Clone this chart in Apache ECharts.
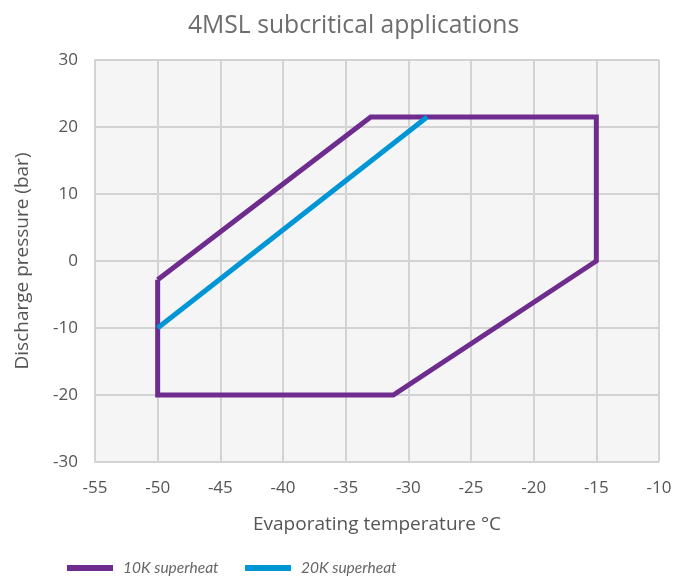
<!DOCTYPE html>
<html>
<head>
<meta charset="utf-8">
<script src="https://cdn.jsdelivr.net/npm/echarts@6/dist/echarts.min.js"></script>
<style>html,body{margin:0;padding:0;background:#fff}#c{width:673px;height:578px}</style>
</head>
<body>
<div id="c"></div>
<script>
const titleText = '4MSL subcritical applications';
const xName = 'Evaporating temperature °C';
const yName = 'Discharge pressure (bar)';
const seriesNames = ['10K superheat', '20K superheat'];
const sh10 = [[-50, -2.8], [-33, 21.5], [-15, 21.5], [-15, 0], [-31.2, -20], [-50, -20], [-50, -2.8]];
const sh20 = [[-50, -10], [-28.5, 21.5]];
const xMin = -55, xMax = -10, xStep = 5;
const yMin = -30, yMax = 30, yStep = 10;

const chart = echarts.init(document.getElementById('c'));
const font = '"Open Sans", "Noto Sans", sans-serif';
const legendText = { fontFamily: 'Lato, "Open Sans", sans-serif', fontSize: 15.5, fontStyle: 'italic', color: '#666', padding: [0, 0, 0, 5] };
chart.setOption({
  animation: false,
  title: {
    text: titleText, left: 183, top: 8,
    textStyle: { fontFamily: font, fontSize: 24.7, fontWeight: 'normal', color: '#6d6d6d' }
  },
  grid: { left: 95, right: 14, top: 60, bottom: 116, show: true, backgroundColor: '#f5f5f5', borderWidth: 0, outerBoundsMode: 'none', containLabel: false },
  legend: [
    { left: 67, top: 560, padding: 0, itemWidth: 46, itemHeight: 6, icon: 'rect', textStyle: legendText, data: [seriesNames[0]] },
    { left: 245, top: 560, padding: 0, itemWidth: 46, itemHeight: 6, icon: 'rect', textStyle: legendText, data: [seriesNames[1]] }
  ],
  xAxis: {
    type: 'value', min: xMin, max: xMax, interval: xStep,
    name: xName, nameLocation: 'middle', nameGap: 53,
    nameTextStyle: { fontFamily: font, fontSize: 19, color: '#555' },
    axisLine: { show: true, lineStyle: { color: '#d3d3d3', width: 2 } },
    axisTick: { show: false },
    axisLabel: { fontFamily: font, fontSize: 17, color: '#555', margin: 18 },
    splitLine: { show: true, lineStyle: { color: '#d3d3d3', width: 2 } }
  },
  yAxis: {
    type: 'value', min: yMin, max: yMax, interval: yStep,
    name: yName, nameLocation: 'middle', nameGap: 63,
    nameTextStyle: { fontFamily: font, fontSize: 19, color: '#555' },
    axisLine: { show: true, lineStyle: { color: '#d3d3d3', width: 2 } },
    axisTick: { show: false },
    axisLabel: { fontFamily: font, fontSize: 17, color: '#555', margin: 17 },
    splitLine: { show: true, lineStyle: { color: '#d3d3d3', width: 2 } }
  },
  series: [
    { name: seriesNames[0], type: 'line', data: sh10, symbol: 'none', color: '#6f2c8f',
      lineStyle: { width: 5, color: '#6f2c8f', join: 'miter' } },
    { name: seriesNames[1], type: 'line', data: sh20, symbol: 'none', color: '#0096d6',
      lineStyle: { width: 5, color: '#0096d6' } }
  ]
});
</script>
</body>
</html>
